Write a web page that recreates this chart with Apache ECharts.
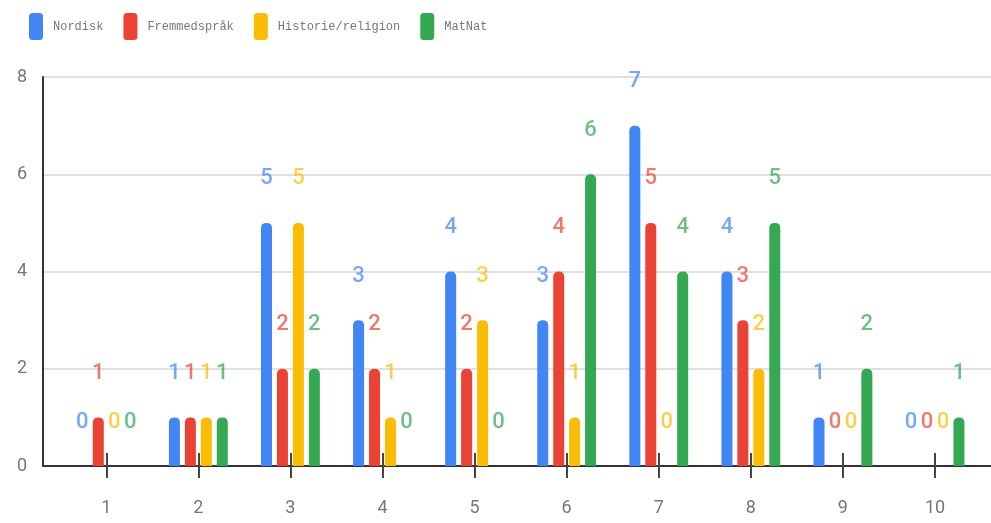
<!DOCTYPE html>
<html>
<head>
<meta charset="utf-8">
<script src="https://cdn.jsdelivr.net/npm/echarts@6/dist/echarts.min.js"></script>
<style>
html,body{margin:0;padding:0;background:#fff;}
#chart{width:991px;height:523px;}
</style>
</head>
<body>
<div id="chart"></div>
<script>
const categories = [1, 2, 3, 4, 5, 6, 7, 8, 9, 10];
const seriesNames = ['Nordisk', 'Fremmedspråk', 'Historie/religion', 'MatNat'];
const nordisk = [0, 1, 5, 3, 4, 3, 7, 4, 1, 0];
const fremmedsprak = [1, 1, 2, 2, 2, 4, 5, 3, 0, 0];
const historieReligion = [0, 1, 5, 1, 3, 1, 0, 2, 0, 0];
const matNat = [0, 1, 2, 0, 0, 6, 4, 5, 2, 1];
const yTicks = [0, 2, 4, 6, 8];

const colors = ['#4285F4', '#EA4335', '#FBBC04', '#34A853'];
const allValues = [nordisk, fremmedsprak, historieReligion, matNat];

const chart = echarts.init(document.getElementById('chart'));

const series = seriesNames.map((name, i) => ({
  name: name,
  type: 'bar',
  xAxisIndex: 0,
  data: categories.map((c, k) => [c, allValues[i][k]]),
  barWidth: 11,
  barGap: '45%',
  itemStyle: { color: colors[i], borderRadius: [5, 5, 0, 0] },
  label: {
    show: true,
    position: ['50%', -44],
    align: 'center',
    verticalAlign: 'middle',
    formatter: p => String(p.value[1]),
    color: colors[i],
    opacity: 0.72,
    fontSize: 22,
    fontWeight: 500,
    fontFamily: 'Roboto, sans-serif'
  },
  emphasis: { disabled: true }
}));

const xMin = 0.313, xMax = 10.608;

chart.setOption({
  animation: false,
  color: colors,
  legend: {
    data: seriesNames,
    left: 29,
    top: 13,
    padding: 0,
    icon: 'roundRect',
    itemWidth: 14,
    itemHeight: 27,
    itemGap: 20,
    textStyle: {
      fontFamily: '"Liberation Mono", "Courier New", monospace',
      fontSize: 12,
      color: '#777',
      padding: [0, 0, 0, 5]
    }
  },
  grid: { left: 43, right: 0, top: 77, bottom: 57, containLabel: false },
  xAxis: [{
    type: 'value',
    min: xMin,
    max: xMax,
    splitLine: { show: false },
    axisLine: { show: true, onZero: false, lineStyle: { color: '#333', width: 2 } },
    axisTick: { show: true, customValues: categories, length: 12, lineStyle: { color: '#444', width: 2 } },
    axisLabel: { show: true, customValues: categories, margin: 33, color: '#777', fontSize: 18, fontFamily: 'Roboto, sans-serif' }
  }, {
    type: 'value',
    position: 'bottom',
    min: xMin,
    max: xMax,
    splitLine: { show: false },
    axisLine: { show: false },
    axisTick: { show: true, inside: true, customValues: categories, length: 13, lineStyle: { color: '#444', width: 2 } },
    axisLabel: { show: false }
  }],
  yAxis: {
    type: 'value',
    min: 0,
    max: 8,
    interval: 2,
    axisLine: { show: true, lineStyle: { color: '#333', width: 2 } },
    axisTick: { show: false },
    axisLabel: { color: '#777', fontSize: 18, margin: 16, fontFamily: 'Roboto, sans-serif' },
    splitLine: { show: true, lineStyle: { color: '#e0e0e0', width: 2 } }
  },
  series: series
});
</script>
</body>
</html>
